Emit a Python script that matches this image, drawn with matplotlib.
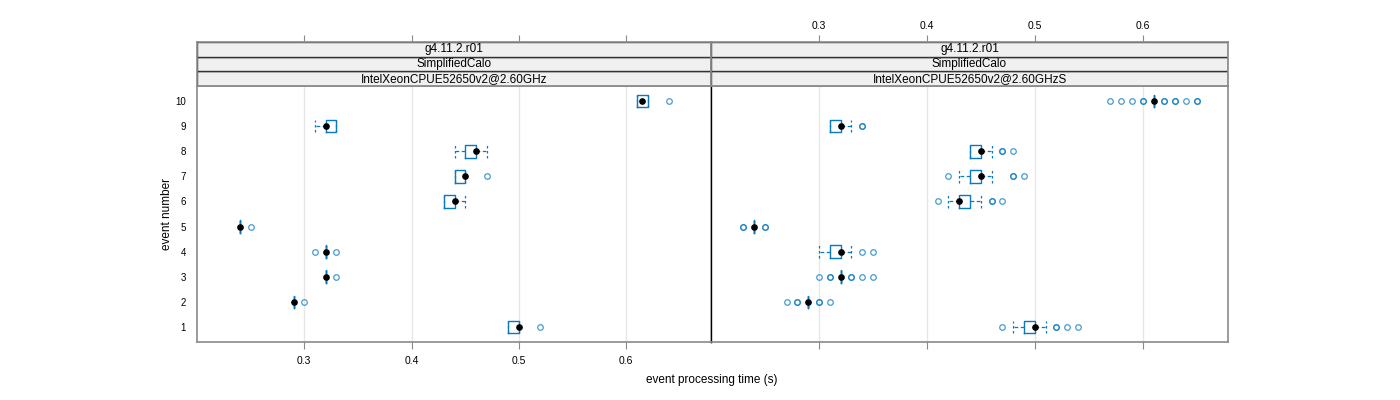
import matplotlib
matplotlib.use("Agg")
import matplotlib.pyplot as plt
from matplotlib.patches import Rectangle

plt.rcParams['font.family'] = ['Liberation Sans', 'DejaVu Sans']

# event numbers (y axis)
events = [1, 2, 3, 4, 5, 6, 7, 8, 9, 10]

# strip labels
release = "g4.11.2.r01"
app = "SimplifiedCalo"
cpus = ["IntelXeonCPUE52650v2@2.60GHz", "IntelXeonCPUE52650v2@2.60GHzS"]

# box stats, left panel (2.60GHz)
lo_left = [0.49, 0.29, 0.32, 0.32, 0.24, 0.43, 0.44, 0.44, 0.31, 0.61]
q1_left = [0.49, 0.29, 0.32, 0.32, 0.24, 0.43, 0.44, 0.45, 0.32, 0.61]
med_left = [0.50, 0.29, 0.32, 0.32, 0.24, 0.44, 0.45, 0.46, 0.32, 0.615]
q3_left = [0.50, 0.29, 0.32, 0.32, 0.24, 0.44, 0.45, 0.46, 0.33, 0.62]
hi_left = [0.50, 0.29, 0.32, 0.32, 0.24, 0.45, 0.45, 0.47, 0.33, 0.62]
out_left = [[0.52], [0.30], [0.33], [0.31, 0.33], [0.25], [], [0.47], [], [], [0.64]]

# box stats, right panel (2.60GHzS)
lo_right = [0.48, 0.29, 0.32, 0.30, 0.24, 0.42, 0.43, 0.44, 0.31, 0.61]
q1_right = [0.49, 0.29, 0.32, 0.31, 0.24, 0.43, 0.44, 0.44, 0.31, 0.61]
med_right = [0.50, 0.29, 0.32, 0.32, 0.24, 0.43, 0.45, 0.45, 0.32, 0.61]
q3_right = [0.50, 0.29, 0.32, 0.32, 0.24, 0.44, 0.45, 0.45, 0.32, 0.61]
hi_right = [0.51, 0.29, 0.32, 0.33, 0.24, 0.45, 0.46, 0.46, 0.33, 0.61]
out_right = [[0.47, 0.52, 0.52, 0.53, 0.54],
             [0.27, 0.28, 0.28, 0.30, 0.30, 0.31],
             [0.30, 0.31, 0.31, 0.33, 0.33, 0.34, 0.35],
             [0.34, 0.35],
             [0.23, 0.23, 0.25, 0.25],
             [0.41, 0.46, 0.46, 0.47],
             [0.42, 0.48, 0.48, 0.49],
             [0.47, 0.47, 0.48],
             [0.34, 0.34],
             [0.57, 0.58, 0.59, 0.60, 0.60, 0.62, 0.62, 0.63, 0.63, 0.64, 0.65, 0.65]]

xticks = [0.3, 0.4, 0.5, 0.6]
xlim = (0.2, 0.679)
blue = "#0a7ac0"
frame = "#8a8a8a"

fig = plt.figure(figsize=(14, 4), dpi=100)
lefts = [197 / 1400, 711 / 1400]
widths = [514 / 1400, 517 / 1400]
pb, ph = 0.145, 0.64
sb, sh = pb + ph, 0.11

panels = [(lo_left, q1_left, med_left, q3_left, hi_left, out_left),
          (lo_right, q1_right, med_right, q3_right, hi_right, out_right)]

for i, (lo, q1, med, q3, hi, out) in enumerate(panels):
    ax = fig.add_axes([lefts[i], pb, widths[i], ph])
    stats = []
    for k in range(len(events)):
        stats.append(dict(whislo=lo[k], q1=q1[k], med=med[k], q3=q3[k],
                          whishi=hi[k], fliers=out[k]))
    ax.bxp(stats, positions=events, widths=0.5, capwidths=0.5,
           orientation='horizontal', patch_artist=False,
           boxprops=dict(color=blue, lw=1.0),
           whiskerprops=dict(color=blue, lw=0.9, dashes=(3, 2)),
           capprops=dict(color=blue, lw=0.9, dashes=(2, 2)),
           medianprops=dict(linestyle='none'),
           flierprops=dict(marker='o', markerfacecolor='none',
                           markeredgecolor=blue, markersize=4,
                           markeredgewidth=0.9, alpha=0.75),
           manage_ticks=False)
    ax.plot(med, events, 'o', color='black', markersize=3.8, zorder=5)
    for t in xticks:
        ax.axvline(t, color='#e6e6e6', lw=1, zorder=0)
    ax.set_xlim(*xlim)
    ax.set_ylim(0.4, 10.6)
    ax.set_xticks(xticks)
    ax.set_yticks(events)
    for s in ax.spines.values():
        s.set_color(frame)
        s.set_linewidth(1.2)
    if i == 0:
        ax.spines['right'].set_color('black')
        ax.spines['right'].set_linewidth(1)
        ax.set_yticklabels([str(e) for e in events], fontsize=7)
        ax.tick_params(axis='y', length=0, pad=8)
        ax.set_xticklabels([str(t) for t in xticks], fontsize=7.5)
        ax.tick_params(axis='x', length=5, color=frame, pad=5)
    else:
        ax.spines['left'].set_color('black')
        ax.spines['left'].set_linewidth(1)
        ax.set_yticks([])
        ax.set_xticklabels([])
        ax.tick_params(axis='x', length=5, color=frame)

    # strips
    sax = fig.add_axes([lefts[i], sb, widths[i], sh])
    sax.set_xlim(*xlim)
    sax.set_ylim(0, 3)
    labels = [cpus[i], app, release]
    for j, lab in enumerate(labels):
        sax.add_patch(Rectangle((xlim[0], j), xlim[1] - xlim[0], 1,
                                facecolor='#f0f0f0', edgecolor='#333333', lw=1))
        sax.text(sum(xlim) / 2, j + 0.5, lab, ha='center', va='center', fontsize=8.5)
    for s in sax.spines.values():
        s.set_color(frame)
        s.set_linewidth(1.2)
    sax.set_yticks([])
    sax.xaxis.tick_top()
    sax.set_xticks(xticks)
    sax.tick_params(axis='x', length=5, color=frame, pad=3)
    if i == 1:
        sax.set_xticklabels([str(t) for t in xticks], fontsize=7.5)
    else:
        sax.set_xticklabels([])

fig.text(712 / 1400, 0.05, "event processing time (s)", ha='center', va='center', fontsize=8.5)
fig.text(167 / 1400, 0.465, "event number", ha='center', va='center', rotation=90, fontsize=8.5)

fig.savefig("out.png", dpi=100)
